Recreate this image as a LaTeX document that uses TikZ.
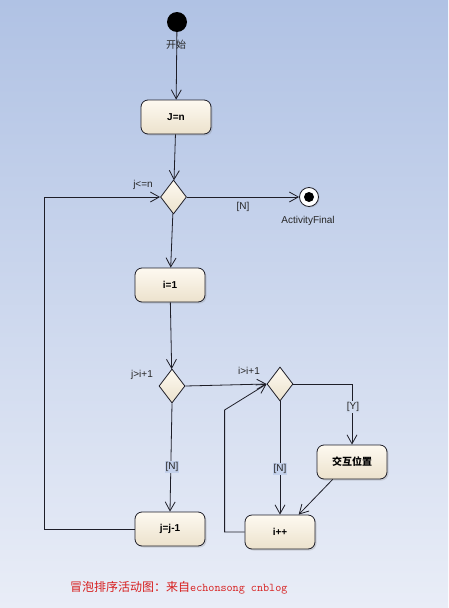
\documentclass[tikz,border=0pt]{standalone}
\usepackage{fontspec}
\setmainfont{Liberation Sans}
\newfontfamily\cjk{Noto Sans CJK SC}
\usetikzlibrary{arrows.meta,shapes.geometric,shadows,calc}
\definecolor{bgtop}{RGB}{176,194,228}
\definecolor{bgbot}{RGB}{233,237,247}
\definecolor{boxlight}{RGB}{253,249,240}
\definecolor{boxdark}{RGB}{236,226,205}
\definecolor{linec}{RGB}{30,30,40}
\definecolor{redtxt}{RGB}{215,30,30}
\tikzset{
  actbox/.style={draw=linec, line width=0.8pt, rounded corners=7pt,
    top color=boxlight, bottom color=boxdark,
    minimum width=70pt, minimum height=34pt, inner sep=0pt,
    font=\fontsize{10}{12}\selectfont\bfseries,
    drop shadow={shadow xshift=1.5pt, shadow yshift=-1.5pt, opacity=0.25}},
  decis/.style={diamond, draw=linec, line width=0.8pt,
    top color=boxlight, bottom color=boxdark,
    minimum width=26pt, minimum height=34pt, inner sep=0pt, aspect=0.76},
  arr/.style={draw=linec, line width=0.8pt,
    -{Straight Barb[length=9pt,width=10pt,line width=0.8pt]}},
  plain/.style={draw=linec, line width=0.8pt},
  lbl/.style={font=\fontsize{10}{12}\selectfont, text=black!85, inner sep=0pt},
}
\begin{document}
\begin{tikzpicture}[x=1pt,y=-1pt]
\shade[top color=bgtop, bottom color=bgbot] (0,0) rectangle (448,608);
\useasboundingbox (0,0) rectangle (448,608);

\node[circle, fill=black, minimum size=20pt, inner sep=0pt] (start) at (177,22) {};
\node[lbl] (startl) at (176,45) {\cjk 开始};

\node[actbox] (jn) at (176,117) {J=n};
\node[decis] (d1) at (173.5,197) {};
\node[lbl] (d1l) at (143,185) {j<=n};

\node[circle, draw=linec, line width=0.8pt, fill=white, minimum size=19pt, inner sep=0pt,
  drop shadow={shadow xshift=1pt, shadow yshift=-1pt, opacity=0.25}] (final) at (309,197) {};
\node[circle, fill=black, minimum size=10pt, inner sep=0pt] (finaldot) at (final) {};
\node[lbl] (finall) at (308,221) {ActivityFinal};
\node[lbl] (nfin) at (243,207) {[N]};

\node[actbox] (i1) at (170,285) {i=1};
\node[decis] (d2) at (172,386) {};
\node[lbl] (d2l) at (142,375) {j>i+1};
\node[decis] (d3) at (280,384) {};
\node[lbl] (d3l) at (249,371) {i>i+1};

\node[actbox] (swap) at (352,462) {\cjk\bfseries 交互位置};
\node[actbox] (jj) at (170,529) {j=j-1};
\node[actbox] (ipp) at (280,532) {i++};

\draw[arr] (start) -- (jn);
\draw[arr] (jn) -- (d1);
\draw[arr] (d1) -- (final);
\draw[arr] (d1) -- (i1);
\draw[arr] (jj.west) -- ++(-90,0) |- (d1.west);
\draw[arr] (i1) -- (d2);
\draw[arr] (d2.east) -- (d3.west);
\draw[arr] (d3.east) -| (swap.north);
\node[lbl, fill=bgbot!60!bgtop, inner sep=1pt] (ylbl) at (353,407) {[Y]};
\draw[arr] (d2.south) -- (jj.north);
\node[lbl, fill=bgbot!35!bgtop, inner sep=1pt] (n2) at (172,467) {[N]};
\draw[arr] (d3.south) -- (ipp.north);
\node[lbl, fill=bgbot!35!bgtop, inner sep=1pt] (n3) at (280,469) {[N]};
\draw[arr] (swap.222) -- (ipp.43);
\draw[arr] (ipp.west) -- ++(-20,0) coordinate (lp1) -- ++(0,-122) coordinate (lp2) -- (d3.west);

\node[anchor=west, text=redtxt, inner sep=0pt, font=\fontsize{12}{14}\selectfont] (title) at (70,588)
  {{\cjk 冒泡排序活动图：来自}{\ttfamily\fontsize{11.8}{14}\selectfont echonsong cnblog}};
\end{tikzpicture}
\end{document}
